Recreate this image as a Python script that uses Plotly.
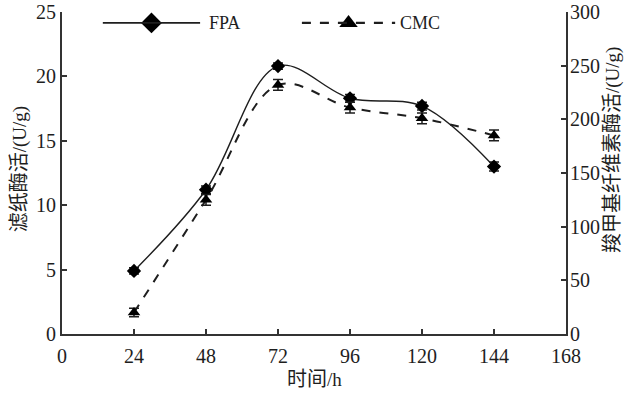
import plotly.graph_objects as go

# Fermentation time (h)
hours = [24, 48, 72, 96, 120, 144]

# Filter-paper activity, FPA (U/g) - left axis
fpa = [4.9, 11.2, 20.8, 18.3, 17.7, 13.0]
fpa_err = [0.25, 0.3, 0.25, 0.3, 0.3, 0.35]

# Carboxymethyl cellulase activity, CMC (U/g) - right axis
cmc = [20, 125, 232, 211, 201, 185]
cmc_err = [4, 5, 5, 5, 5, 5]

x_ticks = [0, 24, 48, 72, 96, 120, 144, 168]
left_ticks = [0, 5, 10, 15, 20, 25]
right_ticks = [0, 50, 100, 150, 200, 250, 300]

INK = "#1e1e1e"
AXIS = "#333333"
SERIF = "Liberation Serif"
CJK = "Noto Sans CJK SC"

fig = go.Figure()

fig.add_trace(go.Scatter(
    x=hours, y=fpa, name="FPA", mode="lines+markers",
    line=dict(color=INK, width=1.4, shape="spline", smoothing=1.0),
    marker=dict(symbol="diamond", size=11, color="black"),
    error_y=dict(type="data", array=fpa_err, color=INK, thickness=1.5, width=5),
    showlegend=False,
))

fig.add_trace(go.Scatter(
    x=hours, y=cmc, name="CMC", mode="lines+markers", yaxis="y2",
    line=dict(color=INK, width=2, dash="dash", shape="spline", smoothing=1.0),
    marker=dict(symbol="triangle-up", size=11, color="black"),
    error_y=dict(type="data", array=cmc_err, color=INK, thickness=1.5, width=5),
    showlegend=False,
))

# Key in the upper part of the plot: long line sample, centred glyph, label
key_y = 0.966
key_items = [
    ("FPA", "diamond", "solid", 1.8, 0.081, 0.274, 0.288),
    ("CMC", "triangle-up", "dash", 2.2, 0.476, 0.661, 0.667),
]
shapes = []
annotations = []
for label, sym, dash, w, x0, x1, xt in key_items:
    shapes.append(dict(type="line", xref="paper", yref="paper",
                       x0=x0, x1=x1, y0=key_y, y1=key_y,
                       line=dict(color=INK, width=w, dash=dash)))
    fig.add_trace(go.Scatter(
        x=[(x0 + x1) / 2], y=[key_y], xaxis="x3", yaxis="y3", mode="markers",
        marker=dict(symbol=sym, size=16, color="black"),
        showlegend=False, hoverinfo="skip",
    ))
    annotations.append(dict(text=label, xref="paper", yref="paper",
                            x=xt, y=key_y, xanchor="left", yanchor="middle",
                            showarrow=False,
                            font=dict(family=SERIF, size=18, color=INK)))

def mixed(cn, rest):
    return f'<span style="font-family:{CJK};font-size:20px">{cn}</span>{rest}'

annotations += [
    dict(text=mixed("时间", "/h"), xref="paper", yref="paper",
         x=0.5, y=-0.134, xanchor="center", yanchor="middle", showarrow=False,
         font=dict(family=SERIF, size=19, color=INK)),
    dict(text=mixed("滤纸酶活", "/(U/g)"), xref="paper", yref="paper",
         x=-0.089, y=0.512, xanchor="center", yanchor="middle", showarrow=False,
         textangle=-90, font=dict(family=SERIF, size=19, color=INK)),
    dict(text=mixed("羧甲基纤维素酶活", "/(U/g)"), xref="paper", yref="paper",
         x=1.087, y=0.571, xanchor="center", yanchor="middle", showarrow=False,
         textangle=-90, font=dict(family=SERIF, size=19, color=INK)),
]

axis_common = dict(
    showline=True, linecolor=AXIS, linewidth=2,
    ticks="inside", ticklen=5, tickwidth=2, tickcolor=AXIS,
    showgrid=False, zeroline=False, automargin=False,
    tickfont=dict(family=SERIF, size=20, color=INK),
)

fig.update_layout(
    width=625, height=393,
    margin=dict(l=62, r=59, t=12, b=59),
    paper_bgcolor="white", plot_bgcolor="white",
    showlegend=False,
    xaxis=dict(range=[0, 168], tickvals=x_ticks, ticklabelstandoff=3,
               **axis_common),
    yaxis=dict(range=[0, 25], tickvals=left_ticks, **axis_common),
    yaxis2=dict(range=[0, 300], tickvals=right_ticks, overlaying="y",
                side="right", ticklabelstandoff=-2, **axis_common),
    xaxis3=dict(range=[0, 1], overlaying="x", visible=False),
    yaxis3=dict(range=[0, 1], overlaying="y", visible=False),
    shapes=shapes,
    annotations=annotations,
)

fig.write_html("out.html")
